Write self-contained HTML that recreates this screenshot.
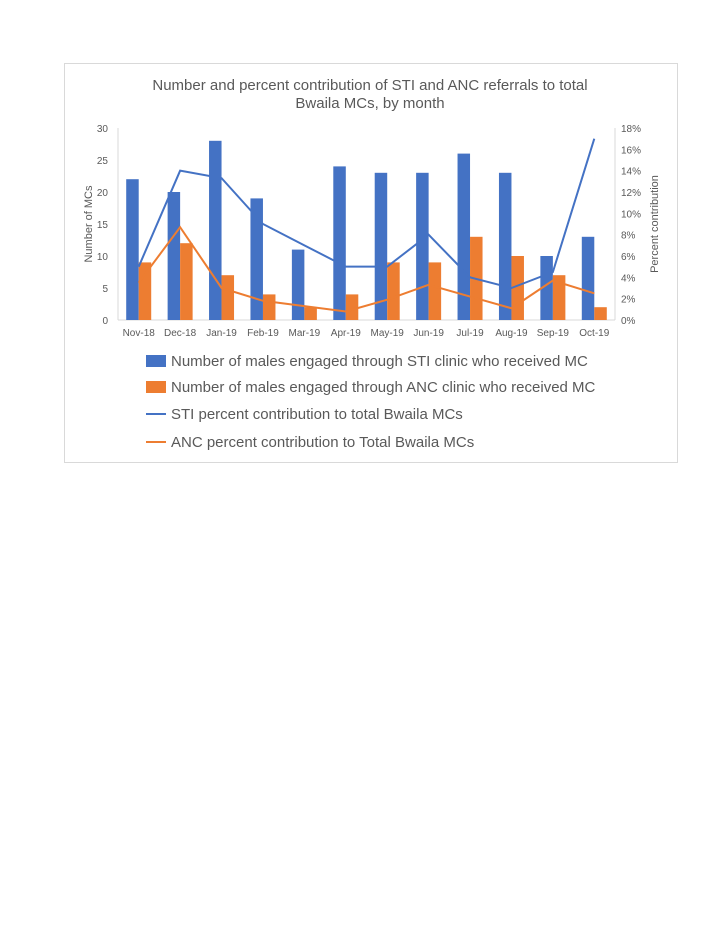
<!DOCTYPE html>
<html><head><meta charset="utf-8"><style>
body{margin:0;background:#fff;width:728px;height:942px;position:relative;font-family:"Liberation Sans",sans-serif;}
#box{position:absolute;left:64px;top:63px;width:612px;height:398px;border:1px solid #d9d9d9;}
</style></head><body>
<div id="box"></div>
<svg id="c" width="728" height="942" style="position:absolute;left:0;top:0">
<text x="370" y="90" text-anchor="middle" font-size="15" fill="#595959">Number and percent contribution of STI and ANC referrals to total</text>
<text x="370" y="108" text-anchor="middle" font-size="15" fill="#595959">Bwaila MCs, by month</text>
<text transform="translate(92,224) rotate(-90)" text-anchor="middle" font-size="11" fill="#595959">Number of MCs</text>
<text transform="translate(658,224) rotate(-90)" text-anchor="middle" font-size="11" fill="#595959">Percent contribution</text>
<g id="g"></g>
</svg>
<script>
const categories=["Nov-18","Dec-18","Jan-19","Feb-19","Mar-19","Apr-19","May-19","Jun-19","Jul-19","Aug-19","Sep-19","Oct-19"];
const stiCounts=[22,20,28,19,11,24,23,23,26,23,10,13];
const ancCounts=[9,12,7,4,2,4,9,9,13,10,7,2];
const stiPct=[5,14,13.3,9,7,5,5,8,4,3,4.5,17];
const ancPct=[3.5,8.7,3,1.8,1.3,0.8,1.9,3.3,2.2,1.1,3.7,2.5];
const leftTicks=[0,5,10,15,20,25,30];
const rightTicks=[0,2,4,6,8,10,12,14,16,18];
const legendLabels=["Number of males engaged through STI clinic who received MC","Number of males engaged through ANC clinic who received MC","STI percent contribution to total Bwaila MCs","ANC percent contribution to Total Bwaila MCs"];
const X0=118,X1=615,Y0=320,Y1=128,BLUE="#4472c4",ORANGE="#ed7d31";
const cw=(X1-X0)/categories.length;
const xc=i=>X0+cw*(i+0.5);
const yL=v=>Y0-(v/30)*(Y0-Y1);
const yR=v=>Y0-(v/18)*(Y0-Y1);
const g=document.getElementById('g');const NS="http://www.w3.org/2000/svg";
function mk(t,a){const e=document.createElementNS(NS,t);for(const k in a)e.setAttribute(k,a[k]);g.appendChild(e);return e;}
let e;
e=mk('line',{x1:X0,x2:X0,y1:Y1,y2:Y0,stroke:'#d9d9d9'});


e=mk('line',{x1:X1,x2:X1,y1:Y1,y2:Y0,stroke:'#d9d9d9'});


e=mk('line',{x1:X0,x2:X1,y1:Y0,y2:Y0,stroke:'#d9d9d9'});


leftTicks.forEach(t=>{e=mk('text',{x:X0-10,y:yL(t)+4,'text-anchor':'end','font-size':10,fill:'#595959'});e.textContent=t;

});
rightTicks.forEach(t=>{e=mk('text',{x:X1+6,y:yR(t)+4,'font-size':10,fill:'#595959'});e.textContent=t+'%';

});
categories.forEach((c,i)=>{
e=mk('text',{x:xc(i),y:Y0+16,'text-anchor':'middle','font-size':10,fill:'#595959'});e.textContent=c;


e=mk('rect',{x:xc(i)-12.5,y:yL(stiCounts[i]),width:12.5,height:Y0-yL(stiCounts[i]),fill:BLUE});


e=mk('rect',{x:xc(i),y:yL(ancCounts[i]),width:12.5,height:Y0-yL(ancCounts[i]),fill:ORANGE});


});
e=mk('polyline',{points:stiPct.map((v,i)=>xc(i)+','+yR(v)).join(' '),fill:'none',stroke:BLUE,'stroke-width':2});


e=mk('polyline',{points:ancPct.map((v,i)=>xc(i)+','+yR(v)).join(' '),fill:'none',stroke:ORANGE,'stroke-width':2});


const ly=[361,387,414,442];
legendLabels.forEach((l,i)=>{
const col=i%2==0?BLUE:ORANGE;
if(i<2){e=mk('rect',{x:146,y:ly[i]-6,width:20,height:12,fill:col});}
else{e=mk('line',{x1:146,x2:166,y1:ly[i],y2:ly[i],stroke:col,'stroke-width':2});}


e=mk('text',{x:171,y:ly[i]+5,'font-size':15,fill:'#595959'});e.textContent=l;


});
</script>
</body></html>
